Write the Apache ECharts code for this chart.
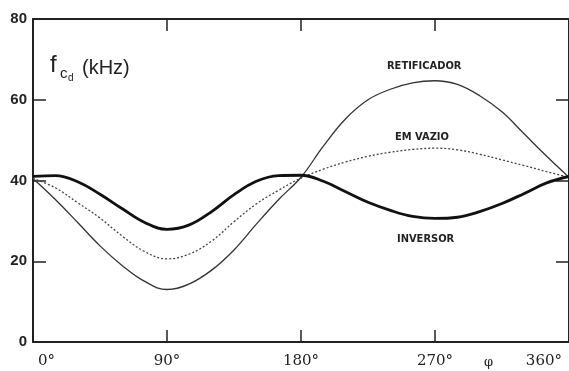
<!DOCTYPE html>
<html><head><meta charset="utf-8">
<script src="https://cdn.jsdelivr.net/npm/echarts@6/dist/echarts.min.js"></script>
<style>html,body{margin:0;padding:0;background:#fff}#c{width:569px;height:371px}</style>
</head><body><div id="c"></div>
<script>
const angles = [0,15,30,45,60,75,90,105,120,135,150,165,180,195,210,225,240,255,270,285,300,315,330,345,360];
const retificador = [40.5,35.3,29.6,23.8,18.9,15,13,14.4,17.8,22.8,29.2,35.3,40.8,48.5,55.3,60,62.6,64.2,64.7,63.8,61,57,51.5,46,40.8];
const emVazio = [40.5,38.2,34.5,30.7,26.2,22.4,20.6,21.8,25,29.8,34.2,37.6,40.6,42.8,44.6,46,47,47.7,48,47.6,46.5,45.1,43.7,42.2,40.8];
const inversor = [41,41.2,39.7,36.6,33,29.6,27.9,29,32.3,36.5,39.8,41.2,41.3,39.8,37.2,34.6,32.6,31.1,30.6,30.9,32.3,34.3,36.8,39.4,41];
const xTicks = [0,90,180,270,360];
const yTicks = [0,20,40,60,80];

const pair = (ys) => angles.map((a,i)=>[a, ys[i]]);
const axisCol = '#222';
const chart = echarts.init(document.getElementById('c'), null, {renderer:'canvas'});
chart.setOption({
  backgroundColor:'#fff',
  animation:false,
  grid:{left:33, top:19, width:537, height:323},
  xAxis:[{
    type:'value', min:0, max:360, interval:90, position:'bottom',
    axisLine:{show:true, onZero:false, lineStyle:{color:axisCol,width:2}},
    axisTick:{show:true, inside:true, length:12, lineStyle:{color:axisCol,width:1.5}},
    splitLine:{show:false},
    axisLabel:{margin:12, color:'#222', fontFamily:'DejaVu Serif', fontSize:15,
      alignMinLabel:'left', alignMaxLabel:'right',
      formatter:(v)=> v===0 ? '{l|0°}' : (v===360 ? '{r|360°}' : v+'°'),
      rich:{l:{padding:[0,0,0,5],fontFamily:'DejaVu Serif',fontSize:15,color:'#222'}, r:{padding:[0,7,0,0],fontFamily:'DejaVu Serif',fontSize:15,color:'#222'}}}
  },{
    type:'value', min:0, max:360, interval:90, position:'top',
    axisLine:{show:true, onZero:false, lineStyle:{color:axisCol,width:2}},
    axisTick:{show:true, inside:true, length:12, lineStyle:{color:axisCol,width:1.5}},
    axisLabel:{show:false}, splitLine:{show:false}
  }],
  yAxis:[{
    type:'value', min:0, max:80, interval:20, position:'left',
    axisLine:{show:true, onZero:false, lineStyle:{color:axisCol,width:2}},
    axisTick:{show:true, inside:true, length:13, lineStyle:{color:axisCol,width:1.5}},
    splitLine:{show:false},
    axisLabel:{margin:6, color:'#222', fontFamily:'Liberation Sans', fontWeight:'bold', fontSize:15, padding:[5,0,0,0],
      formatter:(v)=> yTicks.includes(v) ? String(v) : ''}
  },{
    type:'value', min:0, max:80, interval:20, position:'right',
    axisLine:{show:true, onZero:false, lineStyle:{color:axisCol,width:2}},
    axisTick:{show:true, inside:true, length:13, lineStyle:{color:axisCol,width:1.5}},
    axisLabel:{show:false}, splitLine:{show:false}
  }],
  series:[
    {name:'RETIFICADOR', type:'line', data:pair(retificador), smooth:0.4, showSymbol:false,
     lineStyle:{color:'#333', width:1.3}},
    {name:'EM VAZIO', type:'line', data:pair(emVazio), smooth:0.4, showSymbol:false,
     lineStyle:{color:'#444', width:1.3, type:[2,2]}},
    {name:'INVERSOR', type:'line', data:pair(inversor), smooth:0.4, showSymbol:false,
     lineStyle:{color:'#111', width:2.8}}
  ],
  graphic:[
    {type:'text', left:50, top:53, style:{text:'f', font:'24px "Liberation Sans"', fill:'#222'}},
    {type:'text', left:60, top:66, style:{text:'c', font:'15px "Liberation Sans"', fill:'#222'}},
    {type:'text', left:68, top:73, style:{text:'d', font:'10px "Liberation Sans"', fill:'#222'}},
    {type:'text', left:82, top:58, style:{text:'(kHz)', font:'20px "Liberation Sans"', fill:'#222'}},
    {type:'text', left:387, top:61, style:{text:'RETIFICADOR', font:'bold 11px "Liberation Sans Narrow","DejaVu Sans Condensed"', fill:'#222'}},
    {type:'text', left:395, top:132, style:{text:'EM VAZIO', font:'bold 11px "Liberation Sans Narrow","DejaVu Sans Condensed"', fill:'#222'}},
    {type:'text', left:397, top:234, style:{text:'INVERSOR', font:'bold 11px "Liberation Sans Narrow","DejaVu Sans Condensed"', fill:'#222'}},
    {type:'text', left:484, top:356, style:{text:'φ', font:'13px "DejaVu Serif"', fill:'#222'}}
  ]
});
</script></body></html>
